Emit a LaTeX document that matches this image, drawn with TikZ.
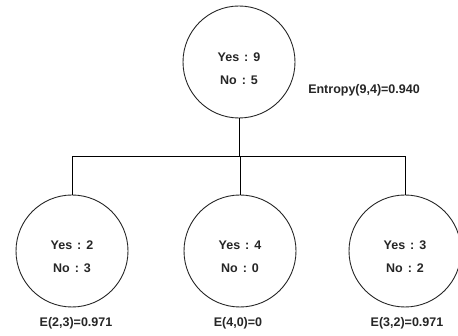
\documentclass[tikz,border=0pt]{standalone}
\usepackage{fontspec}
\setmainfont{Liberation Sans}
\usepackage{tikz}
\usetikzlibrary{positioning}
\tikzset{split/.style = {draw = black!85, circle, minimum size = 112pt, inner sep = 0, line width = 0.9pt}}
\tikzset{count/.style = {align = center, font = \fontsize{12.5}{23}\selectfont\bfseries, text = black!85}}
\tikzset{ent/.style = {font = \fontsize{12.5}{15}\selectfont\bfseries, text = black!85}}
\newcommand{\sep}{\hspace{0.4em}:\hspace{0.4em}}

\begin{document}
\begin{tikzpicture}[x = 1pt, y = -1pt, line width = 0.9pt]

    \useasboundingbox (0, 0) rectangle (458, 336);

    \node [split] (root) at (239, 62) {};
    \node [split] (a) at (72, 251) {};
    \node [split] (b) at (240, 251) {};
    \node [split] (c) at (405, 251) {};

    \node [count] (rootc) at (239, 68.5) {Yes\sep 9\\No\sep 5};
    \node [count] (ac) at (72, 256.5) {Yes\sep 2\\No\sep 3};
    \node [count] (bc) at (240, 256.5) {Yes\sep 4\\No\sep 0};
    \node [count] (cc) at (405, 256.5) {Yes\sep 3\\No\sep 2};

    \node [ent] (roote) at (364, 90) {Entropy(9,4)=0.940};
    \node [ent] (ae) at (76, 323) {E(2,3)=0.971};
    \node [ent] (be) at (238, 323) {E(4,0)=0};
    \node [ent] (ce) at (407, 323) {E(3,2)=0.971};

    \coordinate (bar) at (239, 156.5);

    \draw (root) -- (bar);
    \draw (a |- bar) -- (c |- bar);
    \draw (a |- bar) -- (a);
    \draw (b |- bar) -- (b);
    \draw (c |- bar) -- (c);
  \end{tikzpicture}
\end{document}
